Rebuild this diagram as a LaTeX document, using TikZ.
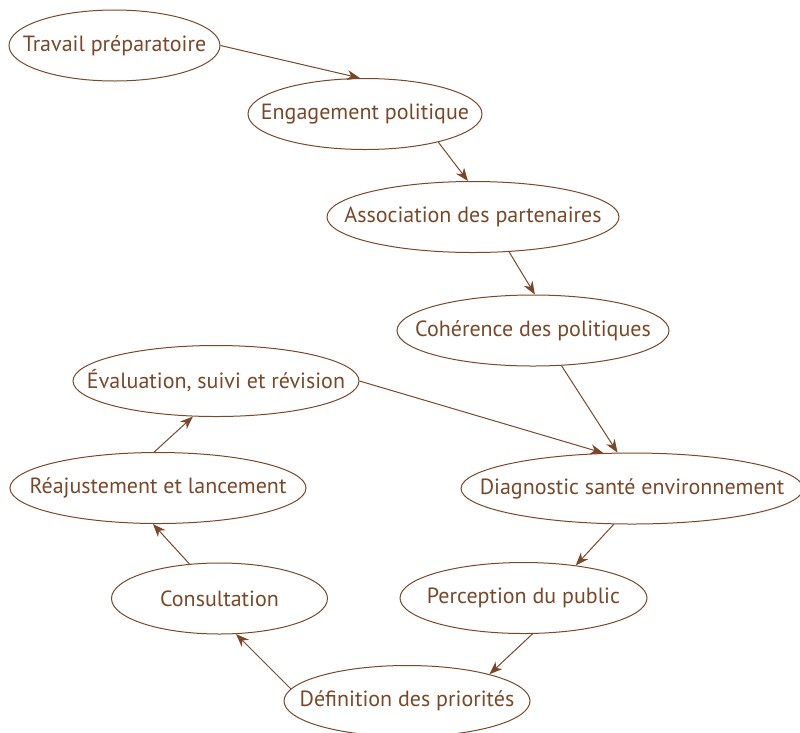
\documentclass[tikz,border=0pt]{standalone}
\usepackage{fontspec}
\setmainfont{PT Sans}
\usetikzlibrary{shapes.geometric,arrows.meta}
\definecolor{brun}{RGB}{122,72,40}
\newcommand{\etiq}[1]{\makebox[0pt]{#1}}

\begin{document}
\begin{tikzpicture}[x=1pt,y=-1pt,line width=1pt,color=brun,
    etape/.style={draw,ellipse,inner sep=0pt,minimum height=71pt,font=\fontsize{22}{25}\selectfont},
    fleche/.style={-{Stealth[length=13pt,width=10pt,inset=4pt]}}]
         \useasboundingbox (0,0) rectangle (800,732);
         \node[etape,minimum width=211pt] (T) at (114.5,45.5) {\etiq{Travail préparatoire}};
         \node[etape,minimum width=234pt] (E) at (365,114) {\etiq{Engagement politique}};
         \node[etape,minimum width=292pt] (A) at (473,217) {\etiq{Association des partenaires}};
         \node[etape,minimum width=272pt] (C) at (533,330.5) {\etiq{Cohérence des politiques}};
         \node[etape,minimum width=286pt] (V) at (216,381) {\etiq{Évaluation, suivi et révision}};
         \node[etape,minimum width=342pt] (D) at (632,488.5) {\etiq{Diagnostic santé environnement}};
         \node[etape,minimum width=296pt] (R) at (158,488) {\etiq{Réajustement et lancement}};
         \node[etape,minimum width=216pt] (K) at (219.5,598.5) {\etiq{Consultation}};
         \node[etape,minimum width=247pt] (P) at (523.5,598) {\etiq{Perception du public}};
         \node[etape,minimum width=246pt] (F) at (407,701) {\etiq{Définition des priorités}};
         \draw[fleche] (T.east) -- (E.98);
         \draw[fleche] (E.-21) -- (A.98);
         \draw[fleche] (A.-44) -- (C.87);
         \draw[fleche] (C.-51) -- (D.112);
         \draw[fleche] (V.east) -- (D.129);
         \draw[fleche] (D.-117) -- (P.32);
         \draw[fleche] (P.-76) -- (F.18);
         \draw[fleche] (F.174) -- (K.-65);
         \draw[fleche] (K.131) -- (R.-98);
         \draw[fleche] (R.96) -- (V.-123);
\end{tikzpicture}
\end{document}
